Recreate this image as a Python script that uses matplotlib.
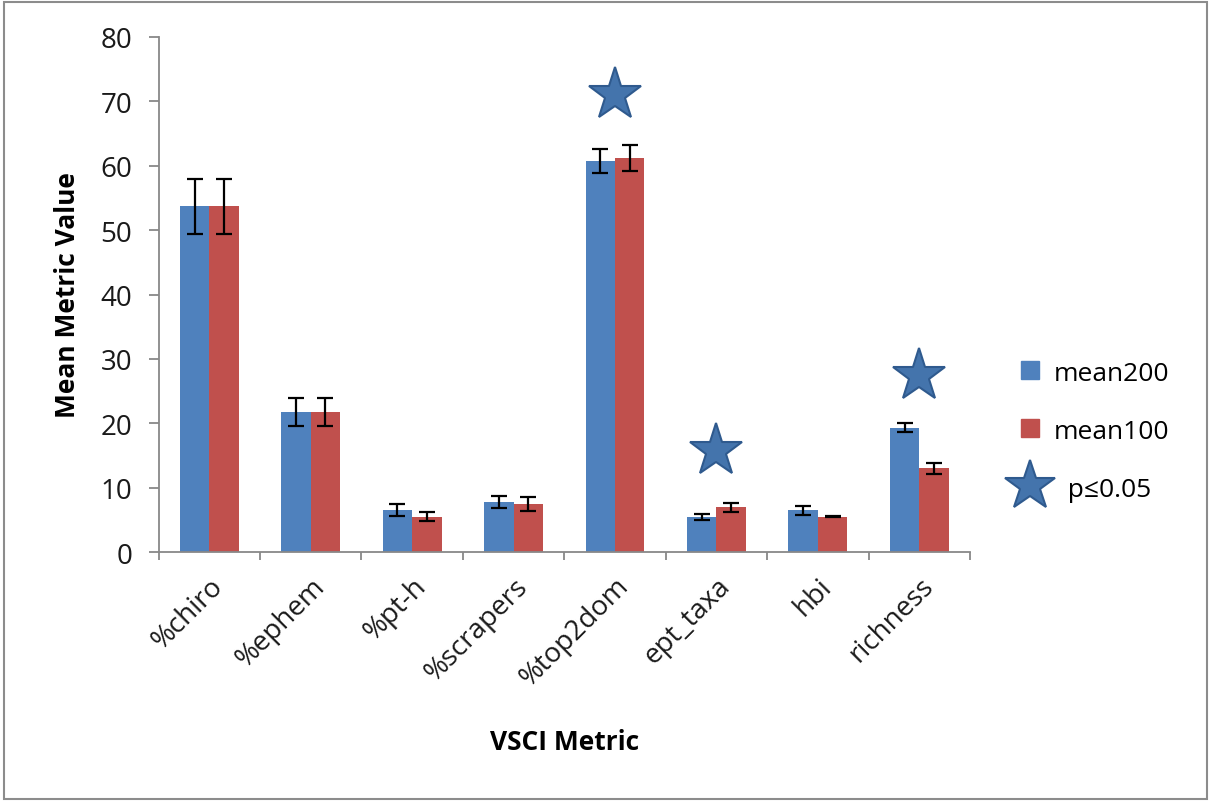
import numpy as np
import matplotlib.pyplot as plt
from matplotlib.lines import Line2D
from matplotlib.patches import Rectangle

plt.rcParams['font.family'] = ['Open Sans', 'DejaVu Sans']

metrics = ["%chiro", "%ephem", "%pt-h", "%scrapers", "%top2dom", "ept_taxa", "hbi", "richness"]
mean200 = [53.7, 21.8, 6.6, 7.8, 60.7, 5.5, 6.5, 19.3]
err200 = [4.3, 2.2, 0.9, 0.9, 1.9, 0.5, 0.7, 0.7]
mean100 = [53.7, 21.8, 5.5, 7.5, 61.2, 7.0, 5.5, 13.0]
err100 = [4.3, 2.2, 0.7, 1.1, 2.0, 0.7, 0.1, 0.8]
sig_metrics = ["%top2dom", "ept_taxa", "richness"]
sig_heights = [71.0, 15.7, 27.4]

blue = "#4F81BD"
red = "#C0504D"
star_face = "#4474AC"
star_edge = "#2F5A8E"

fig = plt.figure(figsize=(12.11, 8.03), dpi=100)
ax = fig.add_axes([0.131, 0.311, 0.670, 0.642])

x = np.arange(len(metrics))
w = 0.29
ekw = dict(ecolor="black", elinewidth=1.6, capsize=6, capthick=1.6)
ax.bar(x - w / 2, mean200, w, yerr=err200, color=blue, error_kw=ekw, label="mean200")
ax.bar(x + w / 2, mean100, w, yerr=err100, color=red, error_kw=ekw, label="mean100")

sx = [metrics.index(m) for m in sig_metrics]
ax.plot(sx, sig_heights, linestyle="none", marker="*", ms=40,
        markerfacecolor=star_face, markeredgecolor=star_edge, markeredgewidth=1.5)

ax.set_xlim(-0.5, len(metrics) - 0.5)
ax.set_ylim(0, 80)
ax.set_yticks(range(0, 81, 10))
ax.set_xticks(np.arange(len(metrics) + 1) - 0.5)
ax.set_xticklabels([])
ax.set_xticks(x, minor=True)
ax.set_xticklabels(metrics, minor=True, rotation=45, ha="right", va="top",
                   rotation_mode="anchor", fontsize=20, color="#1a1a1a")
ax.tick_params(axis="x", which="minor", length=0, pad=14)
ax.tick_params(axis="x", which="major", length=6, color="#888888", width=1.3)
ax.tick_params(axis="y", length=7, color="#888888", width=1.3, labelsize=20,
               labelcolor="#1a1a1a", pad=12)

for s in ["top", "right"]:
    ax.spines[s].set_visible(False)
for s in ["left", "bottom"]:
    ax.spines[s].set_color("#888888")
    ax.spines[s].set_linewidth(1.3)

ax.set_ylabel("Mean Metric Value", fontsize=19, fontweight="bold", labelpad=14)
ax.set_xlabel("VSCI Metric", fontsize=19, fontweight="bold", labelpad=26)

handles = [
    Line2D([], [], linestyle="none", marker="s", ms=13, color=blue, label="mean200"),
    Line2D([], [], linestyle="none", marker="s", ms=13, color=red, label="mean100"),
    Line2D([], [], linestyle="none", marker="*", ms=38, markerfacecolor=star_face,
           markeredgecolor=star_edge, markeredgewidth=1.5, label="  p≤0.05"),
]
fig.legend(handles=handles, loc="center left", bbox_to_anchor=(0.818, 0.462),
           frameon=False, fontsize=19, labelspacing=1.25, handletextpad=0.3,
           handlelength=1.2)

fig.patches.append(Rectangle((0.003, 0.004), 0.994, 0.992, transform=fig.transFigure,
                             fill=False, edgecolor="#8c8c8c", linewidth=1.5))

fig.savefig("out.png", dpi=100)
